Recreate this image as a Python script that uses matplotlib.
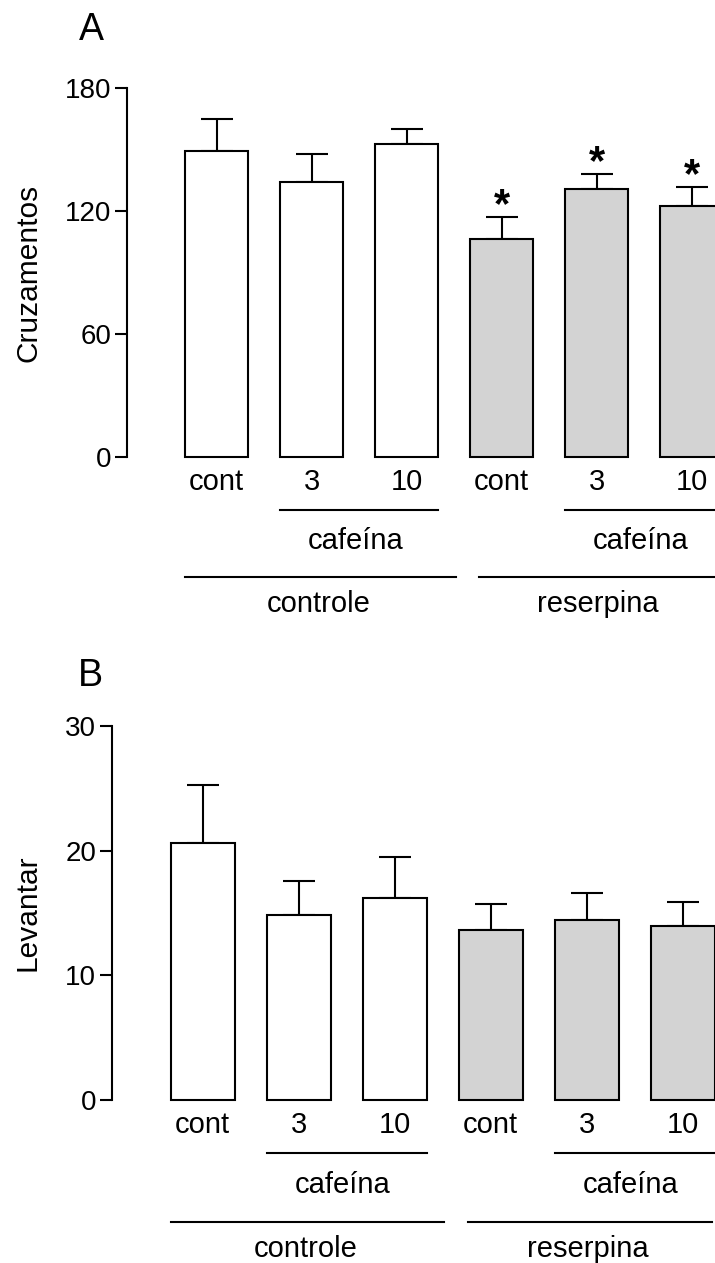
import matplotlib
matplotlib.use('Agg')
import matplotlib.pyplot as plt
import numpy as np

plt.rcParams['font.family'] = ['Liberation Sans', 'DejaVu Sans']

# ---- data ----
tick_labels = ['cont', '3', '10', 'cont', '3', '10']
fill_colors = ['white', 'white', 'white', '#d3d3d3', '#d3d3d3', '#d3d3d3']
cruz_mean = [149.3, 134.1, 152.5, 106.3, 130.9, 122.4]
cruz_sem = [15.6, 13.7, 7.5, 10.9, 7.2, 9.2]
cruz_sig = [False, False, False, True, True, True]
lev_mean = [20.6, 14.8, 16.2, 13.6, 14.4, 13.95]
lev_sem = [4.7, 2.8, 3.3, 2.1, 2.2, 1.9]
lev_sig = [False, False, False, False, False, False]
sub_label = 'cafeína'
main_labels = ['controle', 'reserpina']

W, H = 715, 1263
fig = plt.figure(figsize=(W / 100, H / 100), dpi=100)

FS_TICK = 20
FS_X = 21
FS_LAB = 21.5
BAR_W = 0.665
LW = 1.5


def panel(left_px, zero_px, top_px, unit_px, ymax, yticks, mean, sem, sig,
          ylabel, letter, letter_xy):
    xl = -0.945
    xr = 5.5
    rect = [left_px / W, (H - zero_px) / H, (xr - xl) * unit_px / W,
            (zero_px - top_px) / H]
    ax = fig.add_axes(rect)
    x = np.arange(len(mean))
    ax.bar(x, mean, width=BAR_W, color=fill_colors, edgecolor='black',
           linewidth=LW, zorder=2, clip_on=False)
    ax.errorbar(x, mean, yerr=[np.zeros(len(sem)), sem], fmt='none',
                ecolor='black', elinewidth=LW, capsize=11.5, capthick=LW,
                zorder=1, clip_on=False)
    for xi, m, s, g in zip(x, mean, sem, sig):
        if g:
            ax.annotate('*', (xi, m + s), xytext=(0, 0), textcoords='offset points',
                        ha='center', va='baseline', fontsize=30,
                        fontweight='bold', annotation_clip=False)
    ax.set_xlim(xl, xr)
    ax.set_ylim(0, ymax)
    ax.set_yticks(yticks)
    ax.set_yticklabels([str(t) for t in yticks], fontsize=FS_TICK)
    ax.set_xticks(x)
    ax.set_xticklabels(tick_labels, fontsize=FS_X)
    ax.tick_params(axis='x', length=0, pad=8)
    ax.tick_params(axis='y', length=8.5, width=LW, pad=3, direction='out')
    for sp in ['top', 'right', 'bottom']:
        ax.spines[sp].set_visible(False)
    ax.spines['left'].set_linewidth(LW)
    ax.patch.set_visible(False)

    tr = ax.get_xaxis_transform()
    hw = BAR_W / 2
    # sub-group lines (cafeína)
    for a, b in [(1, 2), (4, 5)]:
        ax.plot([a - hw, b + hw], [-0.143, -0.143], transform=tr,
                color='black', lw=LW, clip_on=False)
        ax.text((a + b) / 2 - 0.04, -0.249, sub_label, transform=tr,
                ha='center', va='baseline', fontsize=FS_X)
    # main group lines
    for (a, b), lab in zip([(-hw, 2.515), (2.765, 5.3)], main_labels):
        ax.plot([a, b], [-0.326, -0.326], transform=tr, color='black',
                lw=LW, clip_on=False)
        ax.text((a + b) / 2 - 0.02, -0.419, lab, transform=tr,
                ha='center', va='baseline', fontsize=FS_X)

    fig.text(28 / W, 1 - ((zero_px + top_px) / 2) / H, ylabel, rotation=90,
             ha='center', va='center', fontsize=FS_LAB)
    fig.text(letter_xy[0] / W, 1 - letter_xy[1] / H, letter, ha='center',
             va='center', fontsize=27)
    return ax


panel(127, 457, 88, 95, 180, [0, 60, 120, 180], cruz_mean, cruz_sem,
      cruz_sig, 'Cruzamentos', 'A', (91, 30))
panel(112, 1100, 726, 96, 30, [0, 10, 20, 30], lev_mean, lev_sem,
      lev_sig, 'Levantar', 'B', (90, 676))

fig.savefig('out.png', dpi=100)
